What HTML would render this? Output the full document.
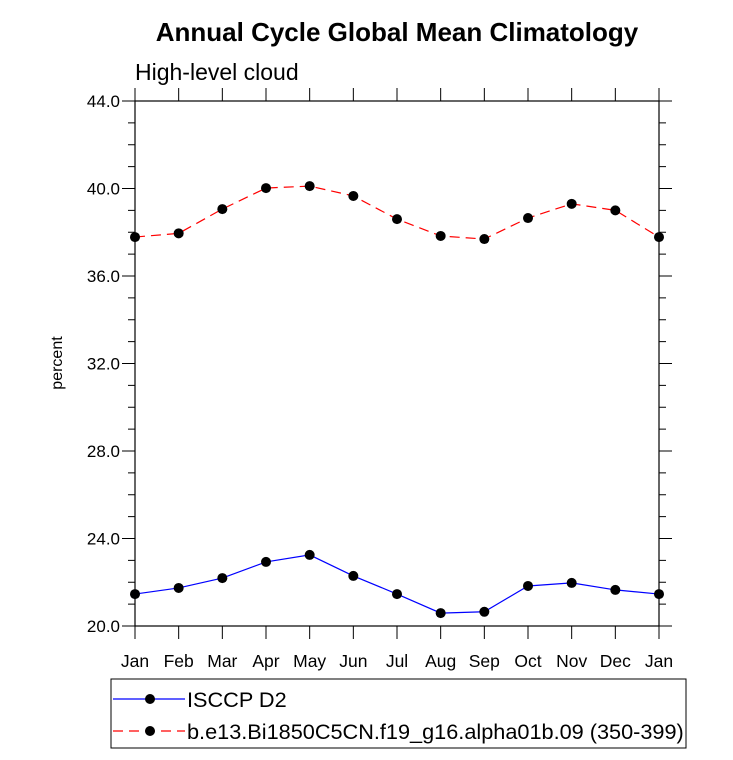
<!DOCTYPE html>
<html><head><meta charset="utf-8"><style>
body{margin:0;background:#fff;}
svg text{font-family:"Liberation Sans",Arial,sans-serif;fill:#000;}
</style></head><body>
<svg id="chart" width="733" height="755" xmlns="http://www.w3.org/2000/svg">
<text x="397" y="41" font-size="26" font-weight="bold" text-anchor="middle">Annual Cycle Global Mean Climatology</text>
<text x="135" y="80" font-size="23">High-level cloud</text>
<text transform="translate(62,363) rotate(-90)" font-size="16" text-anchor="middle">percent</text>
<g id="axes"></g>
<g id="series"></g>
<g>
<rect x="111" y="679" width="575" height="69" fill="none" stroke="#000" stroke-width="1"/>
<g>
<line x1="113" y1="699" x2="185" y2="699" stroke="#0000ff" stroke-width="1.2"/>
<circle cx="150" cy="699" r="5" fill="#000"/>
<text x="187" y="707" font-size="21.7">ISCCP D2</text></g>
<g>
<line x1="113" y1="731" x2="185" y2="731" stroke="#ff0000" stroke-width="1.2" stroke-dasharray="10,6"/>
<circle cx="150" cy="731" r="5" fill="#000"/>
<text x="187" y="739" font-size="21.7">b.e13.Bi1850C5CN.f19_g16.alpha01b.09 (350-399)</text></g>
</g>
</svg>
<script>
const months=["Jan","Feb","Mar","Apr","May","Jun","Jul","Aug","Sep","Oct","Nov","Dec","Jan"];
const yTicks=[20,24,28,32,36,40,44];
const obsValues=[21.46,21.74,22.19,22.93,23.25,22.29,21.46,20.59,20.65,21.83,21.97,21.65,21.46];
const modelValues=[37.78,37.95,39.06,40.02,40.11,39.66,38.6,37.83,37.69,38.65,39.3,39.0,37.78];
const L=135,R=659,T=101,B=626,ymin=20,ymax=44;
const xs=i=>L+(R-L)*i/(months.length-1);
const ys=v=>B-(v-ymin)/(ymax-ymin)*(B-T);
const NS="http://www.w3.org/2000/svg";
function mk(tag,attrs,parent){const e=document.createElementNS(NS,tag);for(const k in attrs)e.setAttribute(k,attrs[k]);parent.appendChild(e);return e;}
const ax=document.getElementById('axes');
const frame=mk('rect',{x:L,y:T,width:R-L,height:B-T,fill:'none',stroke:'#000','stroke-width':1.2},ax);


for(let v=ymin;v<=ymax;v++){
  const major=(v-ymin)%4===0;const len=major?13:7;const y=ys(v);
  mk('line',{x1:L-len,y1:y,x2:L,y2:y,stroke:'#000'},ax);
  mk('line',{x1:R,y1:y,x2:R+len,y2:y,stroke:'#000'},ax);
}
yTicks.forEach(v=>{
  const t=mk('text',{x:L-15,y:ys(v)+6,'font-size':17,'text-anchor':'end'},ax);
  t.textContent=v.toFixed(1);
  
  
});
months.forEach((m,i)=>{
  const x=xs(i);
  mk('line',{x1:x,y1:B,x2:x,y2:B+13,stroke:'#000'},ax);
  mk('line',{x1:x,y1:T-13,x2:x,y2:T,stroke:'#000'},ax);
  const t=mk('text',{x:x,y:B+41,'font-size':17.5,'text-anchor':'middle'},ax);
  t.textContent=m;
  
  
});
const sg=document.getElementById('series');
function draw(vals,color,dash,name){
  const pts=vals.map((v,i)=>xs(i)+','+ys(v)).join(' ');
  const pl=mk('polyline',{points:pts,fill:'none',stroke:color,'stroke-width':1.2},sg);
  if(dash)pl.setAttribute('stroke-dasharray',dash);
  
  
  vals.forEach((v,i)=>{
    const c=mk('circle',{cx:xs(i),cy:ys(v),r:5,fill:'#000'},sg);
    
    
  });
}
draw(modelValues,'#ff0000','10,6','model');
draw(obsValues,'#0000ff',null,'isccp');
</script>
</body></html>
